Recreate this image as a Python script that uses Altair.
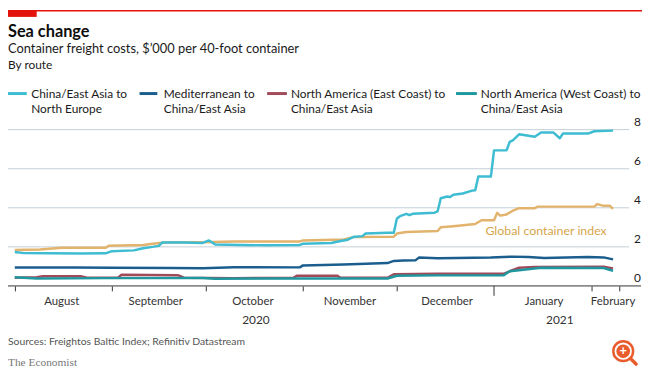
import altair as alt
import pandas as pd

FONT = "Lato"

# ---------------- data ----------------
route_names = [
    "China/East Asia to|North Europe",
    "Mediterranean to|China/East Asia",
    "North America (East Coast) to|China/East Asia",
    "North America (West Coast) to|China/East Asia",
]
index_name = "Global container index"
series_domain = route_names + [index_name]
series_colors = ["#3ebcd2", "#1b5e8e", "#a04a5a", "#1e979e", "#e2b36c"]

cyan_dates = ["2020-08-01", "2020-08-04", "2020-08-12", "2020-08-22", "2020-08-30", "2020-09-01",
              "2020-09-08", "2020-09-11", "2020-09-14", "2020-09-16", "2020-09-17", "2020-09-24",
              "2020-09-30", "2020-10-02", "2020-10-04", "2020-10-12", "2020-10-20", "2020-10-31",
              "2020-11-01", "2020-11-10", "2020-11-13", "2020-11-15", "2020-11-17", "2020-11-20",
              "2020-11-21", "2020-11-28", "2020-11-30", "2020-12-01", "2020-12-02", "2020-12-04",
              "2020-12-05", "2020-12-06", "2020-12-13", "2020-12-14", "2020-12-15", "2020-12-17",
              "2020-12-18", "2020-12-19", "2020-12-22", "2020-12-25", "2020-12-26", "2020-12-27",
              "2020-12-31", "2021-01-01", "2021-01-05", "2021-01-06", "2021-01-07", "2021-01-09",
              "2021-01-14", "2021-01-16", "2021-01-20", "2021-01-22", "2021-01-23", "2021-01-31",
              "2021-02-02", "2021-02-08"]
cyan_vals = [1.74, 1.68, 1.67, 1.66, 1.67, 1.78,
             1.82, 1.93, 2.00, 2.05, 2.22, 2.22,
             2.20, 2.33, 2.12, 2.10, 2.08, 2.10,
             2.16, 2.20, 2.30, 2.35, 2.50, 2.55,
             2.68, 2.72, 2.72, 3.45, 3.57, 3.69,
             3.62, 3.69, 3.75, 3.82, 4.49, 4.58,
             4.55, 4.67, 4.73, 4.88, 4.90, 5.60,
             5.60, 6.94, 6.94, 7.37, 7.45, 7.76,
             7.64, 7.85, 7.85, 7.56, 7.80, 7.80,
             7.92, 7.95]

index_dates = ["2020-08-01", "2020-08-09", "2020-08-16", "2020-08-30", "2020-08-31", "2020-09-11",
               "2020-09-14", "2020-09-19", "2020-09-30", "2020-10-10", "2020-10-31", "2020-11-01",
               "2020-11-14", "2020-11-17", "2020-11-30", "2020-12-01", "2020-12-04", "2020-12-14",
               "2020-12-15", "2020-12-19", "2020-12-26", "2020-12-28", "2021-01-01", "2021-01-02",
               "2021-01-03", "2021-01-05", "2021-01-07", "2021-01-09", "2021-01-14", "2021-01-15",
               "2021-02-02", "2021-02-03", "2021-02-05", "2021-02-07", "2021-02-08"]
index_vals = [1.84, 1.86, 1.95, 1.95, 2.06, 2.10,
              2.16, 2.24, 2.24, 2.28, 2.28, 2.33,
              2.38, 2.50, 2.52, 2.68, 2.76, 2.81,
              3.00, 3.06, 3.17, 3.36, 3.36, 3.74,
              3.60, 3.66, 3.85, 3.98, 3.98, 4.06,
              4.06, 4.19, 4.10, 4.10, 3.94]

med_dates = ["2020-08-01", "2020-08-20", "2020-09-01", "2020-09-20", "2020-09-30", "2020-10-10",
             "2020-10-31", "2020-11-01", "2020-11-14", "2020-11-28", "2020-11-30", "2020-12-03",
             "2020-12-07", "2020-12-08", "2020-12-14", "2020-12-20", "2020-12-31", "2021-01-07",
             "2021-01-12", "2021-01-17", "2021-01-24", "2021-01-31", "2021-02-05", "2021-02-08"]
med_vals = [0.94, 0.94, 0.93, 0.92, 0.91, 0.96,
            0.95, 1.05, 1.10, 1.17, 1.28, 1.30,
            1.32, 1.45, 1.42, 1.43, 1.45, 1.50,
            1.48, 1.43, 1.46, 1.48, 1.46, 1.36]

east_dates = ["2020-08-01", "2020-08-08", "2020-08-10", "2020-08-22", "2020-08-24", "2020-09-03",
              "2020-09-04", "2020-09-22", "2020-09-24", "2020-10-10", "2020-10-29", "2020-10-30",
              "2020-11-12", "2020-11-13", "2020-11-28", "2020-11-30", "2020-12-14", "2021-01-04",
              "2021-01-06", "2021-01-09", "2021-01-14", "2021-02-05", "2021-02-08"]
east_vals = [0.42, 0.45, 0.50, 0.50, 0.42, 0.42,
             0.57, 0.55, 0.42, 0.40, 0.42, 0.52,
             0.52, 0.42, 0.42, 0.60, 0.62, 0.62,
             0.75, 0.93, 0.97, 0.98, 0.90]

west_dates = ["2020-08-01", "2020-08-08", "2020-08-30", "2020-09-30", "2020-10-04", "2020-10-30",
              "2020-11-28", "2020-12-01", "2020-12-14", "2021-01-04", "2021-01-06", "2021-01-09",
              "2021-01-16", "2021-02-05", "2021-02-08"]
west_vals = [0.44, 0.38, 0.40, 0.41, 0.37, 0.38,
             0.38, 0.52, 0.54, 0.54, 0.75, 0.80,
             0.93, 0.92, 0.78]

month_labels = ["August", "September", "October", "November", "December", "January", "February"]
month_label_dates = ["2020-08-16", "2020-09-15", "2020-10-16", "2020-11-16", "2020-12-17",
                     "2021-01-17", "2021-02-08"]
year_labels = ["2020", "2021"]
year_label_dates = ["2020-10-17", "2021-01-22"]
year_tick_dates = ["2021-01-01"]
y_ticks = [0, 2, 4, 6, 8]
y_grid = [2, 4, 6, 8]

index_label = [index_name]
index_label_dates = ["2021-02-06"]
index_label_vals = [2.8]

title_text = ["Sea change"]
subtitle_text = ["Container freight costs, $\u2019000 per 40-foot container"]
byroute_text = ["By route"]
source_text = ["Sources: Freightos Baltic Index; Refinitiv Datastream"]
brand_text = ["The Economist"]
zoom_plus = ["+"]

# ---------------- layout ----------------
W, H = 624, 158
TOP, RIGHT, BOTTOM = 121, 17, 83
LEG_Y = -36.5
LEG_SYMBOLS = [(0, 19), (133, 151), (262, 282), (453, 474)]
LEG_TEXT_X = [23.5, 157.5, 286, 478]


def dt(s):
    y, m, d = (int(p) for p in s.split("-"))
    return alt.DateTime(year=y, month=m, date=d, utc=True)


tick_dates = [dt(s) for s in ["2020-08-01", "2020-09-01", "2020-10-01", "2020-11-01",
                              "2020-12-01", "2021-02-01", "2021-02-10"]]
x_domain = [alt.DateTime(year=2020, month=7, date=29, hours=20, utc=True),
            alt.DateTime(year=2021, month=2, date=11, hours=21, utc=True)]

X = alt.X("date:T", scale=alt.Scale(type="utc", domain=x_domain),
          axis=alt.Axis(values=tick_dates, labels=False, ticks=True, tickSize=5,
                        tickColor="#333333", tickWidth=1, domain=False, grid=False, title=None))
Y = alt.Y("value:Q", scale=alt.Scale(domain=[0, 8], nice=False), axis=None)
color_scale = alt.Scale(domain=series_domain, range=series_colors)
C = alt.Color("series:N", scale=color_scale, legend=None)

frames = [
    pd.DataFrame({"date": index_dates, "value": index_vals, "series": index_name}),
    pd.DataFrame({"date": east_dates, "value": east_vals, "series": route_names[2]}),
    pd.DataFrame({"date": west_dates, "value": west_vals, "series": route_names[3]}),
    pd.DataFrame({"date": med_dates, "value": med_vals, "series": route_names[1]}),
    pd.DataFrame({"date": cyan_dates, "value": cyan_vals, "series": route_names[0]}),
]

one = pd.DataFrame({"k": [0]})


def text_layer(texts, x, y, size, color, weight="normal", font=FONT, align="left",
               baseline="alphabetic", **kw):
    return alt.Chart(pd.DataFrame({"t": texts})).mark_text(
        align=align, baseline=baseline, fontSize=size, color=color, fontWeight=weight, font=font,
        **kw
    ).encode(text="t:N", x=alt.value(x), y=alt.value(y))


layers = []
# red header strip and block
layers.append(alt.Chart(one).mark_rect(color="#e3120b").encode(
    x=alt.value(0), x2=alt.value(W + RIGHT), y=alt.value(-TOP), y2=alt.value(-TOP + 1.5)))
layers.append(alt.Chart(one).mark_rect(color="#e3120b").encode(
    x=alt.value(0), x2=alt.value(29), y=alt.value(-TOP), y2=alt.value(-TOP + 7)))
# header texts
layers.append(text_layer(title_text, 0, -94, 16.5, "#0d0d0d", weight="bold"))
layers.append(text_layer(subtitle_text, 0, -77, 13, "#1a1a1a"))
layers.append(text_layer(byroute_text, 0, -61, 12, "#1a1a1a"))

# legend (symbols coloured through the shared colour scale)
for name, (sx0, sx1), tx in zip(route_names, LEG_SYMBOLS, LEG_TEXT_X):
    layers.append(alt.Chart(pd.DataFrame({"series": [name]})).mark_rule(strokeWidth=3).encode(
        x=alt.value(sx0), x2=alt.value(sx1), y=alt.value(LEG_Y), color=C))
    layers.append(text_layer([name], tx, LEG_Y, 12, "#1a1a1a", baseline="middle",
                             lineBreak="|", lineHeight=16))

# gridlines and y labels
layers.append(alt.Chart(pd.DataFrame({"value": y_grid})).mark_rule(
    color="#c3cfd7", strokeWidth=1).encode(x=alt.value(0), x2=alt.value(W + 4), y=Y))
layers.append(alt.Chart(pd.DataFrame({"value": y_ticks})).mark_text(
    align="right", baseline="bottom", dy=-1, fontSize=12, color="#1a1a1a", font=FONT).encode(
    x=alt.value(W + 16), y=Y, text=alt.Text("value:Q", format="d")))

# lines (draw order: index first, cyan last)
for f in frames:
    layers.append(alt.Chart(f).mark_line(strokeWidth=2.5, strokeJoin="round").encode(
        x=X, y=Y, color=C))

# zero baseline
layers.append(alt.Chart(one).mark_rule(color="#333333", strokeWidth=1).encode(
    x=alt.value(0), x2=alt.value(W + 16), y=alt.value(H)))
# long year tick
layers.append(alt.Chart(pd.DataFrame({"date": year_tick_dates})).mark_rule(
    color="#333333", strokeWidth=1).encode(x=X, y=alt.value(H), y2=alt.value(H + 10)))
# month and year labels
layers.append(alt.Chart(pd.DataFrame({"date": month_label_dates, "t": month_labels})).mark_text(
    align="center", baseline="middle", fontSize=11.5, color="#333333", font=FONT).encode(
    x=X, y=alt.value(H + 16), text="t:N"))
layers.append(alt.Chart(pd.DataFrame({"date": year_label_dates, "t": year_labels})).mark_text(
    align="center", baseline="middle", fontSize=12, color="#333333", font=FONT).encode(
    x=X, y=alt.value(H + 34), text="t:N"))
# inline label for the index
layers.append(alt.Chart(pd.DataFrame({"date": index_label_dates, "value": index_label_vals,
                                      "t": index_label})).mark_text(
    align="right", baseline="middle", fontSize=12.5, color="#d6a54a", font=FONT).encode(
    x=X, y=Y, text="t:N"))
# footer
layers.append(text_layer(source_text, 0, H + 57, 10.5, "#555555", baseline="middle"))
layers.append(text_layer(brand_text, 0, H + 78, 11.5, "#777777", font="Liberation Serif",
                         baseline="middle"))
# zoom icon
ORANGE = "#ea5b2b"
layers.append(alt.Chart(one).mark_point(shape="circle", filled=False, size=400, strokeWidth=2.5,
                                        color=ORANGE, opacity=1).encode(
    x=alt.value(622), y=alt.value(H + 66)))
layers.append(alt.Chart(one).mark_point(shape="circle", filled=True, size=190, color=ORANGE,
                                        opacity=1).encode(x=alt.value(622), y=alt.value(H + 66)))
layers.append(alt.Chart(pd.DataFrame({"t": zoom_plus})).mark_text(
    align="center", baseline="middle", fontSize=13, fontWeight="bold", color="white").encode(
    x=alt.value(622), y=alt.value(H + 66), text="t:N"))
layers.append(alt.Chart(one).mark_rule(color=ORANGE, strokeWidth=3.5, strokeCap="round").encode(
    x=alt.value(630), y=alt.value(H + 74), x2=alt.value(635), y2=alt.value(H + 79)))

chart = alt.layer(*layers).properties(
    width=W, height=H,
    padding={"left": 0, "top": TOP, "right": RIGHT, "bottom": BOTTOM},
    autosize=alt.AutoSizeParams(type="none"),
).configure(font=FONT).configure_view(stroke=None)

chart.save("out.html", embed_options={"renderer": "svg", "actions": False})
